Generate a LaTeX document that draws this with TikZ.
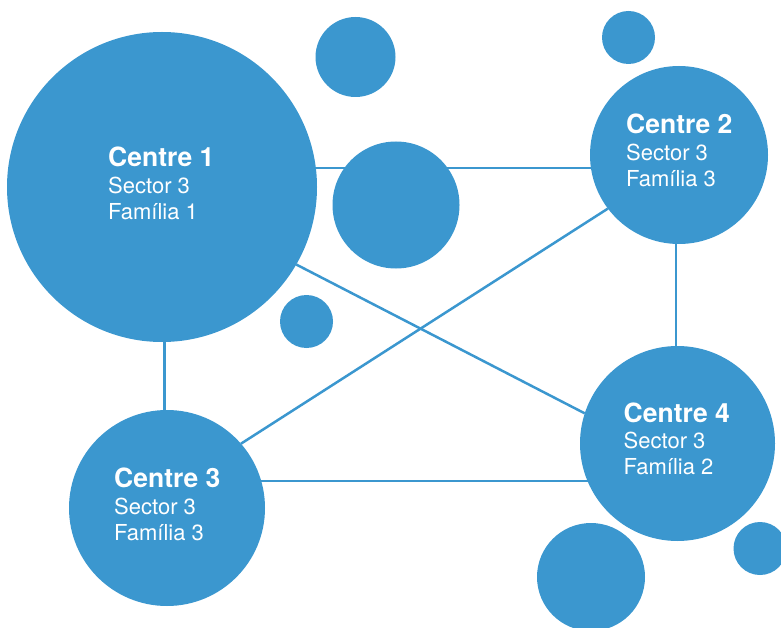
\documentclass[tikz,border=0pt]{standalone}
\usepackage{fontspec}
\setmainfont{TeX Gyre Heros}
\usetikzlibrary{backgrounds,calc}
\definecolor{dotblue}{RGB}{59,151,207}
\tikzset{
  bub/.style={circle,fill=dotblue,draw=none,inner sep=0pt,outer sep=0pt,minimum size=#1},
  link/.style={draw=dotblue,line width=2.5pt},
  ttl/.style={anchor=base west,inner sep=0pt,text=white,font=\fontsize{26.5}{30}\selectfont\bfseries},
  sub/.style={anchor=base west,inner sep=0pt,text=white,font=\fontsize{22}{26}\selectfont},
}
\begin{document}
\begin{tikzpicture}[x=1pt,y=-1pt]
\clip (0,0) rectangle (781,628);
% main centres
\node[bub=310pt] (C1) at (162,187) {};
\node[bub=178pt] (C2) at (679,155) {};
\node[bub=196pt] (C3) at (167,508) {};
\node[bub=195pt] (C4) at (677.5,443.5) {};
% decorative bubbles
\node[bub=80pt]  (b1) at (355.5,57) {};
\node[bub=127pt] (b2) at (396,205) {};
\node[bub=53pt]  (b3) at (306.5,321.5) {};
\node[bub=53pt]  (b4) at (628.5,37.5) {};
\node[bub=108pt] (b5) at (591,577) {};
\node[bub=53pt]  (b6) at (760,548.5) {};
% connectors
\begin{pgfonlayer}{background}
\draw[link] (C1.7.8) -- (C1.7.8 -| C2.center);
\draw[link] (C2.268.1) -- (C2.268.1 |- C4.center);
\draw[link] (C1.271.5) -- (C1.271.5 |- C3.center);
\draw[link] (C3.16) -- (C3.16 -| C4.center);
\draw[link] (C1.-30.2) -- (C4.162.9);
\draw[link] (C3.41.9) -- (C2.217.9);
\end{pgfonlayer}
% labels
\node[ttl] (t1) at ($(C1.center)+(-54,-20)$) {Centre 1};
\node[sub] (s1) at ($(C1.center)+(-54,7)$) {Sector 3};
\node[sub] (f1) at ($(C1.center)+(-54,33)$) {Família 1};
\node[ttl] (t2) at ($(C2.center)+(-53,-21)$) {Centre 2};
\node[sub] (s2) at ($(C2.center)+(-53,6)$) {Sector 3};
\node[sub] (f2) at ($(C2.center)+(-53,32)$) {Família 3};
\node[ttl] (t3) at ($(C3.center)+(-53,-21)$) {Centre 3};
\node[sub] (s3) at ($(C3.center)+(-53,6)$) {Sector 3};
\node[sub] (f3) at ($(C3.center)+(-53,32)$) {Família 3};
\node[ttl] (t4) at ($(C4.center)+(-54,-21)$) {Centre 4};
\node[sub] (s4) at ($(C4.center)+(-54,5)$) {Sector 3};
\node[sub] (f4) at ($(C4.center)+(-54,31)$) {Família 2};
\end{tikzpicture}
\end{document}
